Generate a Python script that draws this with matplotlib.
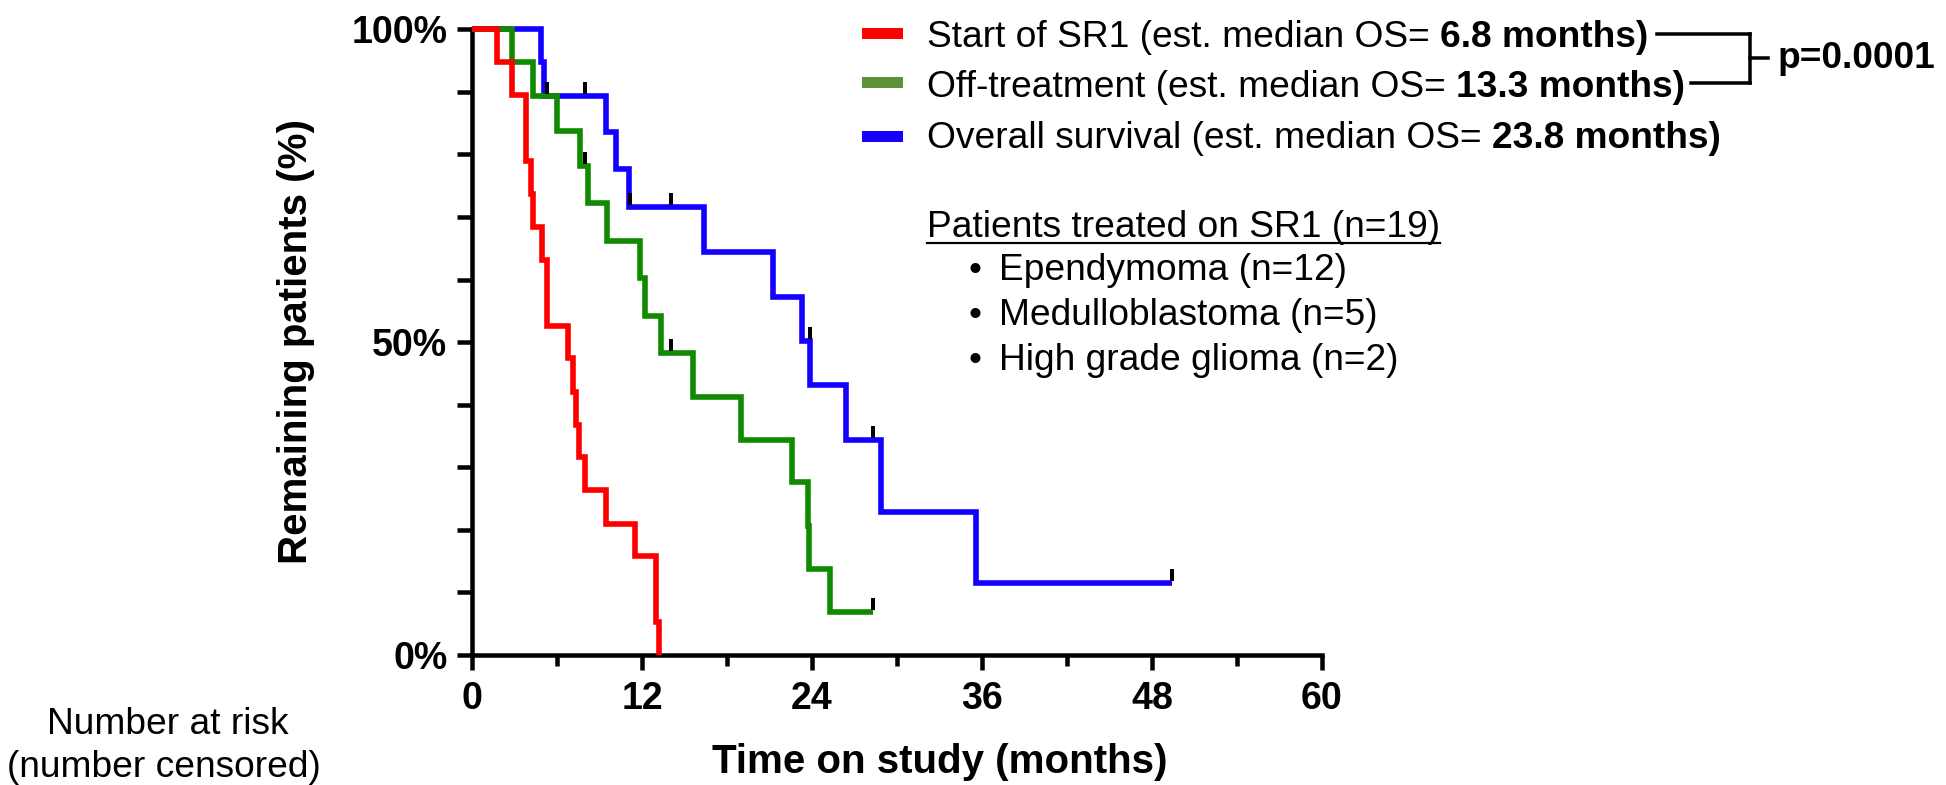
import matplotlib
matplotlib.use('Agg')
import matplotlib.pyplot as plt
from matplotlib.lines import Line2D
from matplotlib.patches import Rectangle
from matplotlib.path import Path

plt.rcParams['font.family'] = ['Liberation Sans', 'DejaVu Sans']

W, H = 1946, 785

# ---- data (months, % remaining) ----
sr1_t = [0, 1.76, 2.82, 3.79, 4.14, 4.33, 4.96, 5.31, 6.80, 7.15, 7.34, 7.55, 7.95, 9.46, 11.48, 12.99, 13.18]
sr1_s = [100, 94.7, 89.5, 78.9, 73.7, 68.4, 63.2, 52.6, 47.4, 42.1, 36.8, 31.6, 26.3, 21.0, 15.8, 5.3, 0]

off_t = [0, 2.85, 4.33, 6.02, 7.62, 8.21, 9.55, 11.86, 12.18, 13.34, 15.62, 18.99, 22.60, 23.69, 23.78, 25.27, 28.28]
off_s = [100, 94.7, 89.4, 83.8, 78.2, 72.2, 66.2, 60.2, 54.2, 48.2, 41.2, 34.4, 27.6, 20.6, 13.7, 6.8, 6.8]
off_cens_t = [7.97, 14.02, 28.28]
off_cens_s = [78.2, 48.2, 6.8]

os_t = [0, 4.85, 5.08, 9.46, 10.16, 11.06, 16.35, 21.27, 23.31, 23.85, 26.40, 28.90, 35.60, 49.40]
os_s = [100, 94.7, 89.4, 83.6, 77.6, 71.6, 64.4, 57.2, 50.2, 43.1, 34.4, 22.9, 11.5, 11.5]
os_cens_t = [5.27, 7.97, 11.15, 14.02, 23.85, 28.28, 49.40]
os_cens_s = [89.4, 89.4, 71.6, 71.6, 50.2, 34.4, 11.5]

xticks = [0, 12, 24, 36, 48, 60]
xminor = [6, 18, 30, 42, 54]
yticks = [0, 50, 100]
ytick_labels = ['0%', '50%', '100%']
yminor = [10, 20, 30, 40, 60, 70, 80, 90]

legend_regular = ['Start of SR1 (est. median OS=', 'Off-treatment (est. median OS=', 'Overall survival (est. median OS=']
legend_bold = ['6.8 months)', '13.3 months)', '23.8 months)']
patients_title = 'Patients treated on SR1 (n=19)'
patients_items = ['Ependymoma (n=12)', 'Medulloblastoma (n=5)', 'High grade glioma (n=2)']
p_text = 'p=0.0001'

RED = '#FF0000'
GREEN = '#108A00'
GREEN_LEG = '#5B9137'
BLUE = '#1400FF'

PX = 72 / 100.0  # points per pixel

fig = plt.figure(figsize=(W / 100, H / 100), dpi=100)

def fx(x):
    return x / W

def fy(y):
    return 1 - y / H

ax = fig.add_axes([fx(472), fy(655), 850 / W, (655 - 29.3) / H])
ax.set_xlim(0, 60)
ax.set_ylim(0, 100)

lw = 5.6 * PX
ax.step(os_t, os_s, where='post', color=BLUE, lw=lw, clip_on=False, zorder=3,
        solid_joinstyle='miter', solid_capstyle='butt')
ax.step(off_t, off_s, where='post', color=GREEN, lw=lw, clip_on=False, zorder=4,
        solid_joinstyle='miter', solid_capstyle='butt')
ax.step(sr1_t, sr1_s, where='post', color=RED, lw=lw, clip_on=False, zorder=5,
        solid_joinstyle='miter', solid_capstyle='butt')

cens_marker = Path([(0, 0.15), (0, 1)], [Path.MOVETO, Path.LINETO])
for ct, cs in ((off_cens_t, off_cens_s), (os_cens_t, os_cens_s)):
    ax.plot(ct, cs, ls='none', marker=cens_marker, ms=19.5, mew=4 * PX,
            mec='black', clip_on=False, zorder=6)

for s in ['top', 'right']:
    ax.spines[s].set_visible(False)
for s in ['left', 'bottom']:
    ax.spines[s].set_linewidth(4.5 * PX)
    ax.spines[s].set_capstyle('projecting')

ax.set_xticks(xticks)
ax.set_xticks(xminor, minor=True)
ax.set_xticklabels([str(v) for v in xticks])
ax.set_yticks(yticks)
ax.set_yticks(yminor, minor=True)
ax.set_yticklabels(ytick_labels)
ax.tick_params(axis='x', which='major', length=15 * PX, width=4.5 * PX, pad=8,
               labelsize=27)
ax.tick_params(axis='x', which='minor', length=11.5 * PX, width=4.5 * PX)
ax.tick_params(axis='y', which='both', length=15 * PX, width=4.5 * PX, pad=7,
               labelsize=27)
for lab in ax.get_xticklabels() + ax.get_yticklabels():
    lab.set_fontweight('bold')

fig.text(fx(296), fy(342), 'Remaining patients (%)', rotation=90, ha='center',
         va='center', fontsize=29, fontweight='bold')
fig.text(fx(940), fy(762), 'Time on study (months)', ha='center', va='center',
         fontsize=29, fontweight='bold')

fig.text(fx(168), fy(734), 'Number at risk', ha='center', va='baseline', fontsize=26.7)
fig.text(fx(164), fy(777), '(number censored)', ha='center', va='baseline', fontsize=26.7)

# legend
renderer = fig.canvas.get_renderer()
LFS = 26.7
space_px = 0.278 * LFS * 100 / 72
leg_base = [46.7, 97.3, 148.3]
patch_cy = [33.7, 82.7, 136.7]
patch_cols = [RED, GREEN_LEG, BLUE]
text_ends = []
for i in range(3):
    fig.add_artist(Rectangle((fx(862), fy(patch_cy[i] + 5.5)), 41 / W, 11 / H,
                             transform=fig.transFigure, color=patch_cols[i], lw=0))
    t1 = fig.text(fx(927), fy(leg_base[i]), legend_regular[i], ha='left',
                  va='baseline', fontsize=LFS)
    bb = t1.get_window_extent(renderer)
    t2 = fig.text((bb.x1 + space_px) / W, fy(leg_base[i]), legend_bold[i], ha='left',
                  va='baseline', fontsize=LFS, fontweight='bold')
    bb2 = t2.get_window_extent(renderer)
    text_ends.append(bb2.x1)

# bracket
bx = 1750
blw = 3.5 * PX
y_r, y_g = patch_cy[0], patch_cy[1]
ymid = (y_r + y_g) / 2
fig.add_artist(Line2D([fx(text_ends[0] + 9), fx(bx)], [fy(y_r), fy(y_r)], lw=blw, color='black'))
fig.add_artist(Line2D([fx(text_ends[1] + 6), fx(bx)], [fy(y_g), fy(y_g)], lw=blw, color='black'))
fig.add_artist(Line2D([fx(bx), fx(bx)], [fy(y_r), fy(y_g)], lw=blw, color='black',
                      solid_capstyle='projecting'))
fig.add_artist(Line2D([fx(bx), fx(bx + 18)], [fy(ymid), fy(ymid)], lw=blw, color='black'))
fig.text(fx(1778), fy(ymid), p_text, ha='left', va='center', fontsize=LFS, fontweight='bold')

# patients block
tp = fig.text(fx(927), fy(237), patients_title, ha='left', va='baseline', fontsize=LFS)
bbp = tp.get_window_extent(renderer)
fig.add_artist(Line2D([fx(927), bbp.x1 / W], [fy(243), fy(243)], lw=2.2 * PX, color='black'))
item_base = [280, 325, 370]
for i, item in enumerate(patients_items):
    fig.text(fx(975), fy(item_base[i]), '\u2022', ha='center', va='baseline', fontsize=LFS)
    fig.text(fx(999), fy(item_base[i]), item, ha='left', va='baseline', fontsize=LFS)

fig.savefig('out.png', dpi=100)
